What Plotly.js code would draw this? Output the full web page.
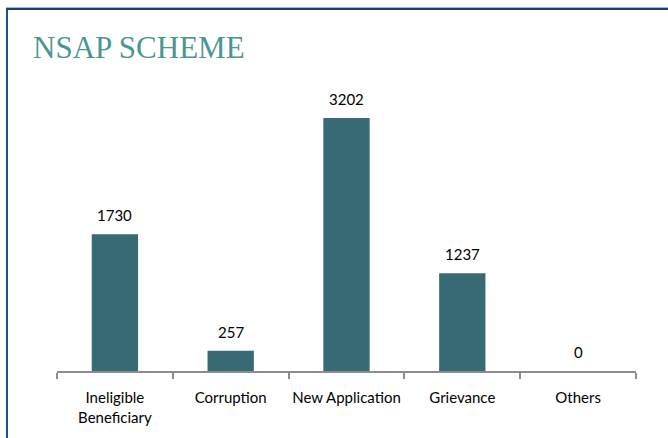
<!DOCTYPE html>
<html>
<head>
<meta charset="utf-8">
<script src="https://cdn.plot.ly/plotly-3.0.1.min.js"></script>
<style>
  html, body { margin: 0; padding: 0; background: #fff; }
  #wrap { position: relative; width: 668px; height: 438px; }
  #chart { width: 668px; height: 438px; }
  #frame { position: absolute; left: 6px; top: 8px; width: 662px; height: 430px;
           border-top: 2px solid #1F3C80; border-left: 2px solid #1F4E9C;
           box-shadow: 0 -1px 0 #A9B8CC; pointer-events: none; }
</style>
</head>
<body>
<div id="wrap">
  <div id="chart"></div>
  <div id="frame"></div>
</div>
<script>
const categories = ["Ineligible<br>Beneficiary", "Corruption", "New Application", "Grievance", "Others"];
const values = [1730, 257, 3202, 1237, 0];
const valueLabels = ["1730", "257", "3202", "1237", "0"];

const labelFont = { family: "Lato, 'Open Sans', sans-serif", size: 15, color: "#000" };

const trace = {
  type: "bar",
  x: categories,
  y: values,
  marker: { color: "#376A75" },
  hoverinfo: "none"
};

const annotations = categories.map((c, i) => ({
  x: c, y: values[i], xref: "x", yref: "y",
  text: valueLabels[i], showarrow: false,
  xanchor: "center", yanchor: "bottom", yshift: 8,
  font: labelFont
}));

const layout = {
  width: 668, height: 438,
  margin: { l: 57, r: 32, t: 80, b: 67 },
  paper_bgcolor: "#fff", plot_bgcolor: "#fff",
  showlegend: false,
  bargap: 0.6,
  title: {
    text: "NSAP SCHEME",
    font: { family: "'Liberation Serif', 'DejaVu Serif', serif", size: 31, color: "#4A9691" },
    x: 33 / 668, xref: "container", xanchor: "left",
    y: 1 - 47 / 438, yref: "container", yanchor: "middle"
  },
  annotations: annotations,
  xaxis: {
    type: "category",
    showline: true, linecolor: "#8C8C8C", linewidth: 2,
    ticks: "outside", tickson: "boundaries", ticklen: 6, tickwidth: 2, tickcolor: "#8C8C8C",
    ticklabelstandoff: 12, tickangle: 0,
    tickfont: labelFont,
    showgrid: false, zeroline: false, fixedrange: true
  },
  yaxis: {
    range: [0, 3683],
    visible: false, showgrid: false, zeroline: false, fixedrange: true
  }
};

Plotly.newPlot("chart", [trace], layout, { displayModeBar: false, staticPlot: true });
</script>
</body>
</html>
